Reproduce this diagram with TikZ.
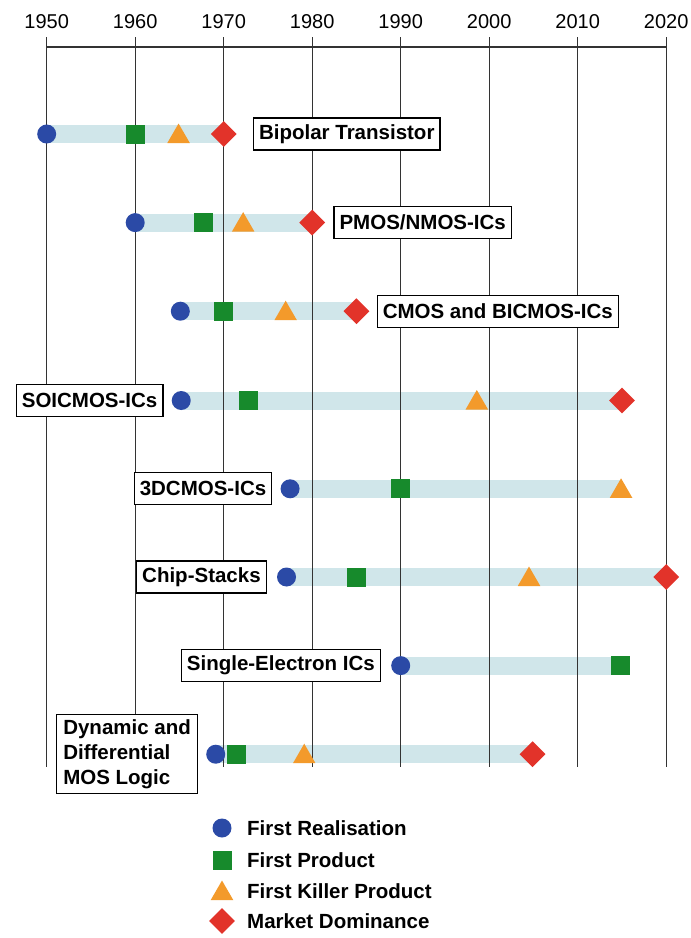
\documentclass[tikz,border=0pt]{standalone}
\usepackage{fontspec}
\setmainfont{Liberation Sans}
\usetikzlibrary{positioning,shapes.geometric,backgrounds}

\definecolor{realblue}{HTML}{2B4AA6}
\definecolor{prodgreen}{HTML}{178A2C}
\definecolor{killorange}{HTML}{F39A2B}
\definecolor{domred}{HTML}{E2332A}
\definecolor{bandblue}{HTML}{D0E6EA}
\definecolor{gridgray}{HTML}{333333}

% year -> x position
\def\yx#1{46.7+8.85*(#1-1950)}

\tikzset{
  real/.style={circle, fill=realblue, inner sep=0pt, minimum size=19pt},
  prod/.style={rectangle, fill=prodgreen, inner sep=0pt, minimum size=19pt},
  kill/.style={regular polygon, regular polygon sides=3, fill=killorange,
    inner sep=0pt, minimum size=26pt, yshift=-2.5pt},
  dom/.style={diamond, fill=domred, inner sep=0pt, minimum width=26pt, minimum height=26pt},
  band/.style={bandblue, line width=18pt},
  grid/.style={gridgray, line width=1.4pt},
  axis/.style={gridgray, line width=2pt},
  yearlbl/.style={font=\fontsize{20}{24}\selectfont, inner sep=0pt},
  lbl/.style={draw=black, line width=1.3pt, fill=white, align=left,
    font=\fontsize{20.5}{25}\selectfont\bfseries, inner xsep=5.5pt, inner ysep=3pt,
    minimum height=32pt},
  legtxt/.style={font=\fontsize{20.5}{25}\selectfont\bfseries, inner sep=0pt, anchor=west}
}

\begin{document}
\begin{tikzpicture}[x=1pt,y=1pt]
\useasboundingbox (0,0) rectangle (691,-938);

% time axis
\draw[axis] ({\yx{1950}},-46.7) -- ({\yx{2020}},-46.7);
\foreach \yr in {1950,1960,...,2020}{
  \draw[grid] ({\yx{\yr}},-37) -- ({\yx{\yr}},-767);
  \node[yearlbl] (y\yr) at ({\yx{\yr}},-22) {\yr};
}

% Bipolar Transistor
\node[real] (real1) at ({\yx{1950}},-134) {};
\node[prod] (prod1) at ({\yx{1960}},-134) {};
\node[kill] (kill1) at ({\yx{1964.9}},-134) {};
\node[dom]  (dom1)  at ({\yx{1970}},-134) {};
\node[lbl, right=16pt of dom1] (bipolar) {Bipolar Transistor};

% PMOS/NMOS
\node[real] (real2) at ({\yx{1960}},-222.6) {};
\node[prod] (prod2) at ({\yx{1967.7}},-222.6) {};
\node[kill] (kill2) at ({\yx{1972.2}},-222.6) {};
\node[dom]  (dom2)  at ({\yx{1980}},-222.6) {};
\node[lbl, right=8pt of dom2] (pmos) {PMOS/NMOS-ICs};

% CMOS
\node[real] (real3) at ({\yx{1965.1}},-311.2) {};
\node[prod] (prod3) at ({\yx{1970}},-311.2) {};
\node[kill] (kill3) at ({\yx{1977}},-311.2) {};
\node[dom]  (dom3)  at ({\yx{1985}},-311.2) {};
\node[lbl, right=7pt of dom3] (cmos) {CMOS and BICMOS-ICs};

% SOICMOS
\node[real] (real4) at ({\yx{1965.2}},-400.5) {};
\node[prod] (prod4) at ({\yx{1972.8}},-400.5) {};
\node[kill] (kill4) at ({\yx{1998.6}},-400.5) {};
\node[dom]  (dom4)  at ({\yx{2015}},-400.5) {};
\node[lbl, left=8pt of real4] (soi) {SOICMOS-ICs};

% 3DCMOS
\node[real] (real5) at ({\yx{1977.5}},-488.8) {};
\node[prod] (prod5) at ({\yx{1990}},-488.8) {};
\node[kill] (kill5) at ({\yx{2014.9}},-488.8) {};
\node[lbl, left=8pt of real5] (threed) {3DCMOS-ICs};

% Chip-Stacks
\node[real] (real6) at ({\yx{1977.1}},-577) {};
\node[prod] (prod6) at ({\yx{1985}},-577) {};
\node[kill] (kill6) at ({\yx{2004.5}},-577) {};
\node[dom]  (dom6)  at ({\yx{2020}},-577) {};
\node[lbl, left=10pt of real6] (stacks) {Chip-Stacks};

% Single-Electron
\node[real] (real7) at ({\yx{1990}},-665.6) {};
\node[prod] (prod7) at ({\yx{2014.8}},-665.6) {};
\node[lbl, left=10pt of real7] (single) {Single-Electron ICs};

% Dynamic and Differential MOS Logic
\node[real] (real8) at ({\yx{1969.1}},-754.2) {};
\node[prod] (prod8) at ({\yx{1971.5}},-754.2) {};
\node[kill] (kill8) at ({\yx{1979.1}},-754.2) {};
\node[dom]  (dom8)  at ({\yx{2004.9}},-754.2) {};
\node[lbl, inner xsep=6.5pt, inner ysep=5pt, left=8pt of real8] (dynamic) {Dynamic and\\Differential\\MOS Logic};

% bars
\begin{pgfonlayer}{background}
\foreach \r/\e in {1/dom,2/dom,3/dom,4/dom,5/kill,6/dom,7/prod,8/dom}
  \draw[band] (real\r.center) -- (real\r.center -| \e\r.center);
\end{pgfonlayer}

% legend
\node[real] (key1) at (222,-828) {};
\node[prod] (key2) at (222,-860) {};
\node[kill] (key3) at (222,-891) {};
\node[dom]  (key4) at (222,-921) {};
\node[legtxt] (keytxt1) at (247,-828) {First Realisation};
\node[legtxt] (keytxt2) at (247,-860) {First Product};
\node[legtxt] (keytxt3) at (247,-891) {First Killer Product};
\node[legtxt] (keytxt4) at (247,-921) {Market Dominance};
\end{tikzpicture}
\end{document}
